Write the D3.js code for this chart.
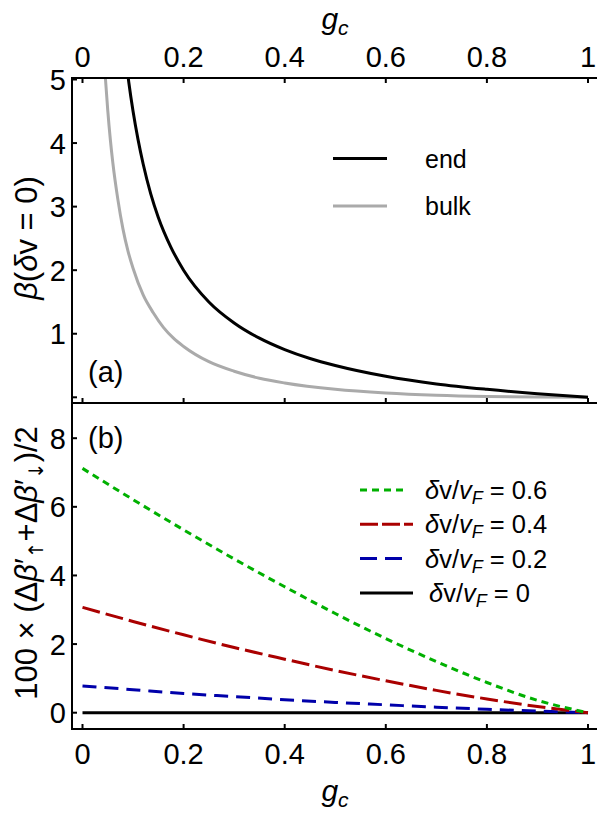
<!DOCTYPE html>
<html><head><meta charset="utf-8">
<script src="https://cdn.jsdelivr.net/npm/d3@7"></script>
<style>
html,body{margin:0;padding:0;background:#fff;}
text{font-family:"Liberation Sans",Arial,sans-serif;fill:#000;}
</style></head>
<body>
<script>
// ---------- data ----------
const xTicks = [0, 0.2, 0.4, 0.6, 0.8, 1];
const xTickLabels = ["0", "0.2", "0.4", "0.6", "0.8", "1"];
const yTicksA = [0, 1, 2, 3, 4, 5];
const yTickLabelsA = ["", "1", "2", "3", "4", "5"];
const yTicksB = [0, 2, 4, 6, 8];
const yTickLabelsB = ["0", "2", "4", "6", "8"];

// panel (a): beta(dv=0) vs g_c
const gEnd    = [0.085, 0.0915, 0.1, 0.11, 0.12, 0.135, 0.15, 0.175, 0.2, 0.25, 0.3, 0.35, 0.4, 0.45, 0.5, 0.6, 0.7, 0.8, 0.9, 1.0];
const betaEnd = [5.38, 4.96, 4.5, 4.05, 3.67, 3.2, 2.83, 2.36, 2.0, 1.5, 1.17, 0.93, 0.75, 0.61, 0.5, 0.33, 0.21, 0.125, 0.056, 0];
const gBulk    = [0.04, 0.0455, 0.05, 0.055, 0.06, 0.07, 0.08, 0.09, 0.1, 0.12, 0.14, 0.16, 0.18, 0.2, 0.25, 0.3, 0.35, 0.4, 0.5, 0.6, 0.7, 0.8, 0.9, 1.0];
const betaBulk = [5.76, 5.0, 4.51, 4.06, 3.69, 3.11, 2.65, 2.30, 2.03, 1.61, 1.33, 1.10, 0.93, 0.80, 0.56, 0.41, 0.30, 0.225, 0.125, 0.067, 0.032, 0.0125, 0.003, 0];

// panel (b): 100 x (dB'up + dB'down)/2 vs g_c
const gB      = [0, 0.1, 0.2, 0.3, 0.4, 0.5, 0.6, 0.7, 0.8, 0.9, 1.0];
const dv06    = [7.12, 6.21, 5.33, 4.48, 3.67, 2.89, 2.16, 1.49, 0.88, 0.36, 0];
const dv04    = [3.07, 2.66, 2.27, 1.90, 1.56, 1.23, 0.93, 0.65, 0.40, 0.18, 0];
const dv02    = [0.78, 0.67, 0.56, 0.47, 0.38, 0.30, 0.23, 0.16, 0.10, 0.045, 0];
const dv00    = [0, 0, 0, 0, 0, 0, 0, 0, 0, 0, 0];

const legendA = ["end", "bulk"];
const legendB = ["0.6", "0.4", "0.2", "0"];

// ---------- layout ----------
const W = 597, H = 821;
const FL = 72, FR = 600;
const aTop = 78, aBot = 403, bBot = 729;

const svg = d3.select("body").append("svg").attr("width", W).attr("height", H);

const x = d3.scaleLinear().domain([0, 1]).range([82.5, 588]);
const yA = d3.scaleLinear().domain([0, 5]).range([397.3, 79.5]);
const yB = d3.scaleLinear().domain([0, 8]).range([712.7, 438.2]);

const defs = svg.append("defs");
defs.append("clipPath").attr("id", "clipA").append("rect")
  .attr("x", FL).attr("y", aTop).attr("width", FR - FL).attr("height", aBot - aTop);
defs.append("clipPath").attr("id", "clipB").append("rect")
  .attr("x", FL).attr("y", aBot).attr("width", FR - FL).attr("height", bBot - aBot);

// ---------- curves panel a ----------
const lineA = d3.line().curve(d3.curveMonotoneX).x(d => x(d[0])).y(d => yA(d[1]));
const gA = svg.append("g").attr("clip-path", "url(#clipA)");
gA.append("path").datum(gBulk.map((g, i) => [g, betaBulk[i]]))
  .attr("d", lineA).attr("fill", "none").attr("stroke", "#aaaaaa").attr("stroke-width", 3);
gA.append("path").datum(gEnd.map((g, i) => [g, betaEnd[i]]))
  .attr("d", lineA).attr("fill", "none").attr("stroke", "#000").attr("stroke-width", 3);

// ---------- curves panel b ----------
const lineB = d3.line().curve(d3.curveMonotoneX).x(d => x(d[0])).y(d => yB(d[1]));
const seriesB = [
  {vals: dv00, color: "#000000", dash: null},
  {vals: dv02, color: "#0000aa", dash: "14,8"},
  {vals: dv04, color: "#aa0000", dash: "18,6"},
  {vals: dv06, color: "#00b000", dash: "7,5"}
];
const gBp = svg.append("g").attr("clip-path", "url(#clipB)");
seriesB.forEach(s => {
  gBp.append("path").datum(gB.map((g, i) => [g, s.vals[i]]))
    .attr("d", lineB).attr("fill", "none").attr("stroke", s.color)
    .attr("stroke-width", 3).attr("stroke-dasharray", s.dash);
});

// ---------- frame ----------
const frame = svg.append("g").attr("stroke", "#000").attr("stroke-width", 2);
[aTop, aBot, bBot].forEach(yy => frame.append("line").attr("x1", FL - 1).attr("x2", FR).attr("y1", yy).attr("y2", yy));
frame.append("line").attr("x1", FL).attr("x2", FL).attr("y1", aTop - 1).attr("y2", bBot + 1);

// ticks
const tk = svg.append("g").attr("stroke", "#000").attr("stroke-width", 2);
xTicks.forEach(t => {
  tk.append("line").attr("x1", x(t)).attr("x2", x(t)).attr("y1", aTop).attr("y2", aTop + 5);
  tk.append("line").attr("x1", x(t)).attr("x2", x(t)).attr("y1", aBot).attr("y2", aBot - 5);
  tk.append("line").attr("x1", x(t)).attr("x2", x(t)).attr("y1", bBot).attr("y2", bBot - 5);
});
yTicksA.forEach(t => tk.append("line").attr("x1", FL).attr("x2", FL + 5).attr("y1", yA(t)).attr("y2", yA(t)));
yTicksB.forEach(t => tk.append("line").attr("x1", FL).attr("x2", FL + 5).attr("y1", yB(t)).attr("y2", yB(t)));

// tick labels
const FS = 29;
xTicks.forEach((t, i) => {
  svg.append("text").attr("x", x(t)).attr("y", 66.5).attr("text-anchor", "middle")
    .attr("font-size", FS).text(xTickLabels[i]);
  svg.append("text").attr("x", x(t)).attr("y", 763.5).attr("text-anchor", "middle")
    .attr("font-size", FS).text(xTickLabels[i]);
});
yTicksA.forEach((t, i) => {
  svg.append("text").attr("x", 66).attr("y", yA(t)).attr("dy", "0.36em").attr("text-anchor", "end")
    .attr("font-size", FS).text(yTickLabelsA[i]);
});
yTicksB.forEach((t, i) => {
  svg.append("text").attr("x", 66).attr("y", yB(t)).attr("dy", "0.36em").attr("text-anchor", "end")
    .attr("font-size", FS).text(yTickLabelsB[i]);
});

// axis titles g_c
function gcTitle(yb) {
  const t = svg.append("text").attr("x", 335).attr("y", yb).attr("text-anchor", "middle")
    .attr("font-size", 30).attr("font-style", "italic");
  t.append("tspan").text("g");
  t.append("tspan").attr("font-size", 21).attr("dy", 6).text("c");
}
gcTitle(29);
gcTitle(801);

// y titles
const ta = svg.append("text").attr("transform", "translate(37,238) rotate(-90)")
  .attr("text-anchor", "middle").attr("font-size", 31);
ta.append("tspan").attr("font-style", "italic").text("β");
ta.append("tspan").text("(");
ta.append("tspan").attr("font-style", "italic").text("δ");
ta.append("tspan").text("v = 0)");

const tb = svg.append("text").attr("transform", "translate(37,563) rotate(-90)")
  .attr("text-anchor", "middle").attr("font-size", 31);
tb.append("tspan").text("100 × (Δ");
tb.append("tspan").attr("font-style", "italic").text("β");
tb.append("tspan").text("′");
tb.append("tspan").attr("font-size", 20).attr("font-family", "DejaVu Sans").attr("dy", 6).text("↑");
tb.append("tspan").attr("dy", -6).text("+Δ");
tb.append("tspan").attr("font-style", "italic").text("β");
tb.append("tspan").text("′");
tb.append("tspan").attr("font-size", 20).attr("font-family", "DejaVu Sans").attr("dy", 6).text("↓");
tb.append("tspan").attr("dy", -6).text(")/2");

// panel labels
svg.append("text").attr("x", 88).attr("y", 382).attr("font-size", 29).text("(a)");
svg.append("text").attr("x", 88).attr("y", 448).attr("font-size", 29).text("(b)");

// legend a
const legAColors = ["#000000", "#aaaaaa"];
legendA.forEach((name, i) => {
  const yy = 158.5 + i * 47.5;
  svg.append("line").attr("x1", 333).attr("x2", 387).attr("y1", yy).attr("y2", yy)
    .attr("stroke", legAColors[i]).attr("stroke-width", 3);
  svg.append("text").attr("x", 425).attr("y", yy).attr("dy", "0.36em").attr("font-size", 25).text(name);
});

// legend b
const legBStyles = [
  {color: "#00b000", dash: "7,5", len: 47},
  {color: "#aa0000", dash: "18,4", len: 53},
  {color: "#0000aa", dash: "17,8", len: 42},
  {color: "#000000", dash: null, len: 53}
];
legendB.forEach((v, i) => {
  const yy = 490 + i * 34.3;
  const st = legBStyles[i];
  svg.append("line").attr("x1", 360).attr("x2", 360 + st.len).attr("y1", yy).attr("y2", yy)
    .attr("stroke", st.color).attr("stroke-width", 3).attr("stroke-dasharray", st.dash);
  const t = svg.append("text").attr("x", v === "0" ? 429 : 425).attr("y", yy).attr("dy", "0.36em")
    .attr("font-size", 25.5);
  t.append("tspan").attr("font-style", "italic").text("δ");
  t.append("tspan").text("v/");
  t.append("tspan").attr("font-style", "italic").text("v");
  t.append("tspan").attr("font-style", "italic").attr("font-size", 18).attr("dy", 5).text("F");
  t.append("tspan").attr("dy", -5).text(" = " + v);
});
</script>
</body></html>
